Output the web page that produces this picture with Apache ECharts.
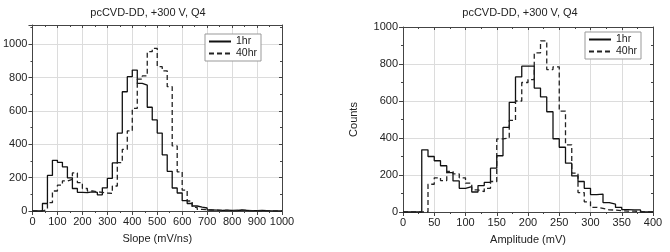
<!DOCTYPE html>
<html><head><meta charset="utf-8">
<script src="https://cdn.jsdelivr.net/npm/echarts@6/dist/echarts.min.js"></script>
<style>html,body{margin:0;padding:0;background:#fff}#c{width:670px;height:252px}</style>
</head><body><div id="c"></div>
<script>
const chartTitle = 'pcCVD-DD, +300 V, Q4';
const seriesNames = ['1hr', '40hr'];

// Left: Slope histogram (bin edges, counts per bin)
const slopeEdges = [0,20,40,60,80,100,120,140,160,180,200,220,240,260,280,300,320,340,360,380,400,420,440,460,480,500,520,540,560,580,600,620,640,660,680,700,720,740,760,780,800,820,840,860,880,900,920,940,960,980,1000];
const slope1hr = [0,0,45,213,304,292,265,199,135,112,110,115,112,97,139,195,288,467,715,805,845,765,755,622,546,467,337,238,138,108,62,45,30,23,18,6,5,4,5,3,3,6,4,2,2,3,2,1,0,0];
const slope40hr = [0,0,10,50,120,155,180,190,228,170,135,120,115,112,108,105,150,290,370,480,615,790,810,955,975,865,840,745,390,235,125,60,22,10,8,6,5,3,3,2,3,4,3,2,1,1,1,0,0,0];

// Right: Amplitude histogram
const ampEdges = [0,10,20,30,40,50,60,70,80,90,100,110,120,130,140,150,160,170,180,190,200,210,220,230,240,250,260,270,280,290,300,310,320,330,340,350,360,370,380,390,400];
const amp1hr = [0,0,0,336,300,277,250,213,168,128,137,108,143,160,237,304,457,593,730,788,788,670,622,542,396,350,264,195,165,128,94,97,51,42,25,13,11,11,0,0];
const amp40hr = [0,0,0,0,150,185,170,219,206,185,156,120,110,128,165,395,400,495,600,700,716,860,925,770,785,545,363,210,105,55,25,20,12,10,7,5,5,3,0,0];

function hist(edges, vals) {
  const d = vals.map((v, i) => [edges[i], v]);
  d.push([edges[vals.length], vals[vals.length - 1]]);
  d.push([edges[vals.length], 0]);
  return d;
}

const FONT = 'Liberation Sans, Arial, sans-serif';
const frameColor = '#444';
const gridColor = '#dcdcdc';
const labelColor = '#222';
const plain = v => String(v);

function bottomX(grid, max, interval, name) {
  return {
    gridIndex: grid, type: 'value', min: 0, max: max, interval: interval, position: 'bottom',
    axisLine: {show: true, onZero: false, lineStyle: {color: frameColor, width: 1}},
    axisTick: {show: true, inside: false, length: 4, lineStyle: {color: frameColor}},
    minorTick: {show: true, splitNumber: 2, length: 2, lineStyle: {color: frameColor}},
    axisLabel: {fontSize: 11, color: labelColor, margin: 5, fontFamily: FONT, formatter: plain},
    splitLine: {show: true, lineStyle: {color: gridColor, width: 1}},
    name: name, nameLocation: 'middle', nameGap: 22,
    nameTextStyle: {fontSize: 11, color: labelColor, fontFamily: FONT}
  };
}
function topX(grid, max, interval) {
  return {
    gridIndex: grid, type: 'value', min: 0, max: max, interval: interval, position: 'top',
    axisLine: {show: true, onZero: false, lineStyle: {color: frameColor, width: 1}},
    axisTick: {show: true, inside: true, length: 3, lineStyle: {color: frameColor}},
    minorTick: {show: true, splitNumber: 2, length: 2, lineStyle: {color: frameColor}},
    axisLabel: {show: false}, splitLine: {show: false}
  };
}
function leftY(grid, max, name) {
  return {
    gridIndex: grid, type: 'value', min: 0, max: max, interval: 200, position: 'left',
    axisLine: {show: true, onZero: false, lineStyle: {color: frameColor, width: 1}},
    axisTick: {show: true, inside: false, length: 4, lineStyle: {color: frameColor}},
    minorTick: {show: true, splitNumber: 2, length: 2, lineStyle: {color: frameColor}},
    axisLabel: {fontSize: 11, color: labelColor, margin: 5, fontFamily: FONT, formatter: plain, showMaxLabel: max === 1000},
    splitLine: {show: true, lineStyle: {color: gridColor, width: 1}},
    name: name, nameLocation: 'middle', nameGap: 44, nameRotate: 90,
    nameTextStyle: {fontSize: 11, color: labelColor, fontFamily: FONT}
  };
}
function rightY(grid, max) {
  return {
    gridIndex: grid, type: 'value', min: 0, max: max, interval: 200, position: 'right',
    axisLine: {show: true, onZero: false, lineStyle: {color: frameColor, width: 1}},
    axisTick: {show: true, inside: true, length: 3, lineStyle: {color: frameColor}},
    minorTick: {show: true, splitNumber: 2, length: 2, lineStyle: {color: frameColor}},
    axisLabel: {show: false}, splitLine: {show: false}
  };
}
function legend(left, top) {
  return {
    data: seriesNames, left: left, top: top, orient: 'vertical',
    backgroundColor: '#fff', borderColor: '#999', borderWidth: 1,
    padding: [2, 4, 2, 3], itemGap: 1, itemWidth: 22, itemHeight: 10,
    selectedMode: false,
    itemStyle: {opacity: 0},
    textStyle: {fontSize: 10.5, color: labelColor, fontFamily: FONT}
  };
}
const solidStyle = {color: '#111', width: 1.3, type: 'solid'};
const dashStyle = {color: '#222', width: 1.3, type: [5, 3]};

const chart = echarts.init(document.getElementById('c'));
chart.setOption({
  animation: false,
  textStyle: {fontFamily: FONT},
  grid: [
    {left: 30, right: 388, top: 25, bottom: 41},
    {left: 403, right: 17, top: 27, bottom: 40}
  ],
  xAxis: [
    bottomX(0, 1000, 100, 'Slope (mV/ns)'), topX(0, 1000, 100),
    bottomX(1, 400, 50, 'Amplitude (mV)'), topX(1, 400, 50)
  ],
  yAxis: [
    leftY(0, 1115, ''), rightY(0, 1115),
    leftY(1, 1000, 'Counts'), rightY(1, 1000)
  ],
  legend: [legend(205, 34), legend(585, 32)],
  graphic: [
    {type: 'text', x: 148, y: 13, style: {text: chartTitle, textAlign: 'center', textVerticalAlign: 'middle', font: '11px ' + FONT, fill: labelColor}},
    {type: 'text', x: 520, y: 13, style: {text: chartTitle, textAlign: 'center', textVerticalAlign: 'middle', font: '11px ' + FONT, fill: labelColor}}
  ],
  series: [
    {name: seriesNames[0], type: 'line', step: 'end', symbol: 'none', xAxisIndex: 0, yAxisIndex: 0, data: hist(slopeEdges, slope1hr), lineStyle: solidStyle, itemStyle: {color: '#111'}, z: 3},
    {name: seriesNames[1], type: 'line', step: 'end', symbol: 'none', xAxisIndex: 0, yAxisIndex: 0, data: hist(slopeEdges, slope40hr), lineStyle: dashStyle, itemStyle: {color: '#222'}, z: 3},
    {name: seriesNames[0], type: 'line', step: 'end', symbol: 'none', xAxisIndex: 2, yAxisIndex: 2, data: hist(ampEdges, amp1hr), lineStyle: solidStyle, itemStyle: {color: '#111'}, z: 3},
    {name: seriesNames[1], type: 'line', step: 'end', symbol: 'none', xAxisIndex: 2, yAxisIndex: 2, data: hist(ampEdges, amp40hr), lineStyle: dashStyle, itemStyle: {color: '#222'}, z: 3}
  ]
});
</script></body></html>
